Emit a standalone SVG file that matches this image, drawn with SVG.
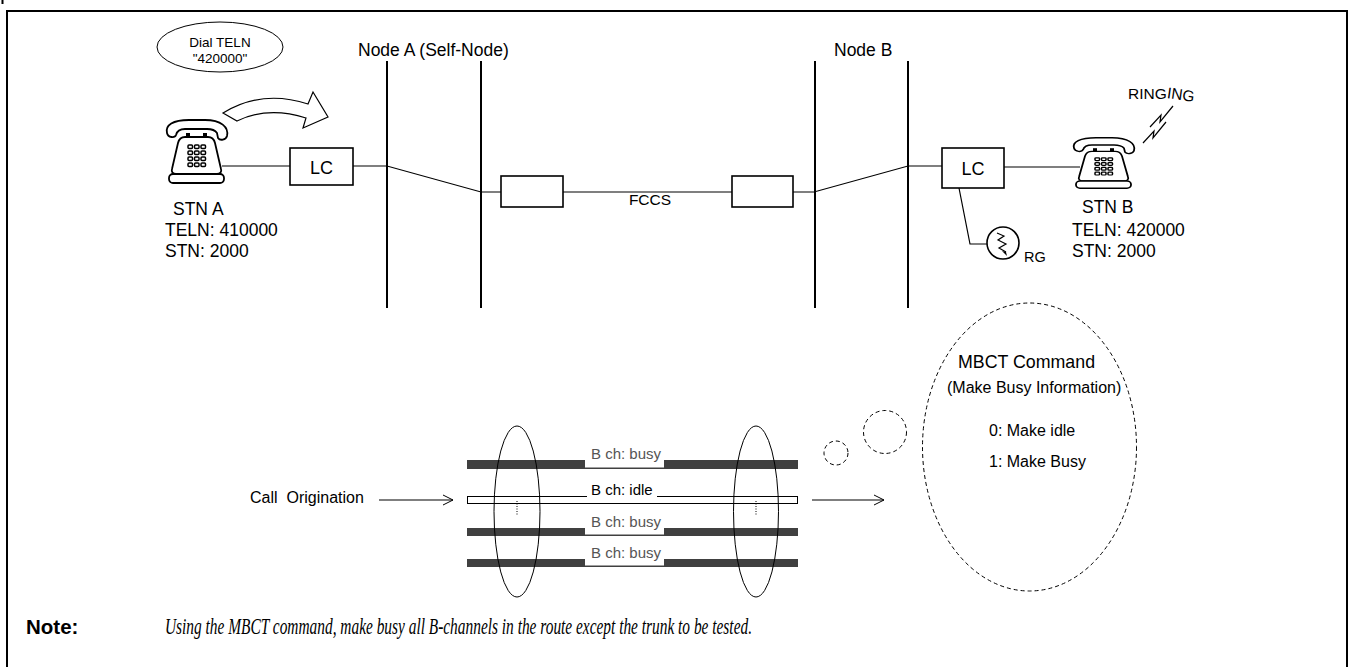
<svg xmlns="http://www.w3.org/2000/svg" width="1349" height="667" viewBox="0 0 1349 667">
  <style>
    .t { font-family: "Liberation Sans", Arial, sans-serif; fill: #000; }
    .ln { stroke: #000; stroke-width: 1.2; fill: none; }
    .node { stroke: #000; stroke-width: 2; fill: none; }
    .box { stroke: #000; stroke-width: 1.6; fill: #fff; }
    .busy { fill: #404040; }
    .gap { fill: #fff; }
    .dash { stroke: #000; stroke-width: 1; fill: none; stroke-dasharray: 4 3; }
    .busyt { fill: #555; }
  </style>
  <defs>
    <!-- telephone set: handset, body with keypad, base plate -->
    <g id="phone">
      <path d="M2,14 C0,6 8,1 24,1 L40,1 C56,1 64,8 62,17 C61,21 55,22 53,19 L52,14 C50,11 46,10 42,10 L20,10 C16,10 12,12 11,16 C10,19 3,19 2,14 Z" fill="#fff" stroke="#000" stroke-width="1.8"/>
      <rect x="21" y="14" width="4" height="5" fill="#000"/>
      <rect x="38" y="14" width="4" height="5" fill="#000"/>
      <path d="M20,18 L43,18 C47,18 49,20 50,24 L56,50 C57,53 55,55 52,55 L11,55 C8,55 6,53 7,50 L13,24 C14,20 16,18 20,18 Z" fill="#fff" stroke="#000" stroke-width="1.8"/>
      <rect x="4" y="55" width="55" height="9" rx="4" fill="#fff" stroke="#000" stroke-width="1.8"/>
      <g fill="#fff" stroke="#000" stroke-width="1.5">
        <rect x="23" y="26" width="4.5" height="3.5" rx="1"/>
        <rect x="29.5" y="26" width="4.5" height="3.5" rx="1"/>
        <rect x="36" y="26" width="4.5" height="3.5" rx="1"/>
        <rect x="23" y="32" width="4.5" height="3.5" rx="1"/>
        <rect x="29.5" y="32" width="4.5" height="3.5" rx="1"/>
        <rect x="36" y="32" width="4.5" height="3.5" rx="1"/>
        <rect x="23" y="38" width="4.5" height="3.5" rx="1"/>
        <rect x="29.5" y="38" width="4.5" height="3.5" rx="1"/>
        <rect x="36" y="38" width="4.5" height="3.5" rx="1"/>
        <rect x="23" y="44" width="4.5" height="3.5" rx="1"/>
        <rect x="29.5" y="44" width="4.5" height="3.5" rx="1"/>
        <rect x="36" y="44" width="4.5" height="3.5" rx="1"/>
      </g>
    </g>
    <marker id="open" viewBox="0 0 12 12" refX="11" refY="6" markerWidth="12" markerHeight="12" markerUnits="userSpaceOnUse" orient="auto">
      <path d="M1,1 L11,6 L1,11" fill="none" stroke="#000" stroke-width="1"/>
    </marker>
  </defs>

  <rect x="0" y="0" width="1349" height="667" fill="#fff"/>
  <rect x="1.5" y="0" width="2" height="4" fill="#000"/>
  <!-- frame -->
  <rect x="7" y="11" width="1340" height="700" fill="none" stroke="#000" stroke-width="2"/>

  <!-- connectors -->
  <g id="connectors">
    <polyline class="ln" points="222,166 290,166"/>
    <polyline class="ln" points="353,166 387,166 481,192 501,192"/>
    <line class="ln" x1="563" y1="192" x2="732" y2="192"/>
    <polyline class="ln" points="793,192 814,192 908,166 942,166"/>
    <line class="ln" x1="1004" y1="167" x2="1080" y2="167"/>
    <polyline class="ln" points="959,188 970,244 987,244"/>
    <line class="ln" x1="379" y1="500" x2="453" y2="500" marker-end="url(#open)"/>
    <line class="ln" x1="812" y1="500" x2="884" y2="500" marker-end="url(#open)"/>
  </g>

  <!-- node A -->
  <g id="node-a">
    <line class="node" x1="387" y1="61" x2="387" y2="308"/>
    <line class="node" x1="481" y1="61" x2="481" y2="308"/>
    <text class="t" x="358" y="56" font-size="17.5">Node A (Self-Node)</text>
  </g>

  <!-- node B -->
  <g id="node-b">
    <line class="node" x1="815" y1="61" x2="815" y2="308"/>
    <line class="node" x1="908" y1="61" x2="908" y2="308"/>
    <text class="t" x="834" y="56" font-size="17.5">Node B</text>
  </g>

  <!-- dial bubble -->
  <g id="dial-note">
    <ellipse cx="220" cy="47" rx="63" ry="25" fill="#fff" stroke="#000" stroke-width="1"/>
    <text class="t" x="220" y="47" font-size="13.5" text-anchor="middle">Dial TELN</text>
    <text class="t" x="220" y="63" font-size="13.5" text-anchor="middle">"420000"</text>
  </g>

  <!-- dialing arrow -->
  <g id="dial-arrow">
    <path d="M223,113 Q262,89 308,104 L313,92 L328,117 L303,128 L306,118 Q268,106 237,121 Z" fill="#fff" stroke="#000" stroke-width="1.2" stroke-linejoin="miter"/>
  </g>

  <!-- station A -->
  <g id="stn-a">
    <use href="#phone" transform="translate(165,119)"/>
    <text class="t" x="173" y="215" font-size="17.5">STN A</text>
    <text class="t" x="165" y="236" font-size="17.5">TELN: 410000</text>
    <text class="t" x="165" y="257" font-size="17.5">STN: 2000</text>
  </g>

  <!-- line circuit A -->
  <g id="lc-a">
    <rect class="box" x="290" y="148" width="63" height="37"/>
    <text class="t" x="321.5" y="173.5" font-size="18" text-anchor="middle">LC</text>
  </g>

  <!-- FCCS link -->
  <g id="fccs">
    <rect class="box" x="501" y="176" width="62" height="31"/>
    <rect class="box" x="732" y="176" width="61" height="31"/>
    <text class="t" x="650" y="205" font-size="15.5" text-anchor="middle">FCCS</text>
  </g>

  <!-- line circuit B -->
  <g id="lc-b">
    <rect class="box" x="942" y="148" width="62" height="40"/>
    <text class="t" x="973" y="174.5" font-size="18" text-anchor="middle">LC</text>
  </g>

  <!-- ringing generator -->
  <g id="rg">
    <circle cx="1003" cy="243" r="16" fill="#fff" stroke="#000" stroke-width="1.6"/>
    <polyline points="997,233 1004,236 998,240 1006,244 999,248 1006,252" fill="none" stroke="#000" stroke-width="1.2"/>
    <path d="M1006,252 L1002,251 L1007,256 Z" fill="#000"/>
    <text class="t" x="1024" y="262" font-size="14.5">RG</text>
  </g>

  <!-- station B -->
  <g id="stn-b">
    <use href="#phone" transform="translate(1072,137) scale(1,0.8)"/>
    <text class="t" x="1082" y="213" font-size="17.5">STN B</text>
    <text class="t" x="1072" y="236" font-size="17.5">TELN: 420000</text>
    <text class="t" x="1072" y="257" font-size="17.5">STN: 2000</text>
    <text class="t" x="1128" y="99" font-size="15.5">RING</text>
    <text class="t" x="0" y="0" font-size="15.5" transform="translate(1166.5,98) rotate(8)">ING</text>
    <polyline class="ln" points="1150,127 1161,115 1160,122 1173,106"/>
    <polyline class="ln" points="1143,143 1154,131 1153,138 1166,122"/>
  </g>

  <!-- B channels -->
  <g id="b-channels">
    <rect class="busy" x="467" y="460" width="331" height="9"/>
    <rect class="gap" x="585" y="446" width="79" height="21.5"/>
    <text class="t busyt" x="591" y="459" font-size="15">B ch: busy</text>

    <rect x="467.5" y="496.5" width="330" height="7" fill="#fff" stroke="#000" stroke-width="1"/>
    <rect class="gap" x="587" y="494" width="70" height="3.2"/>
    <text class="t" x="591" y="495" font-size="15">B ch: idle</text>

    <rect class="busy" x="467" y="528" width="331" height="8"/>
    <rect class="gap" x="585" y="514" width="79" height="20.5"/>
    <text class="t busyt" x="591" y="527" font-size="15">B ch: busy</text>

    <rect class="busy" x="467" y="559" width="331" height="8"/>
    <rect class="gap" x="585" y="545" width="79" height="20.5"/>
    <text class="t busyt" x="591" y="558" font-size="15">B ch: busy</text>

    <ellipse cx="517" cy="511.5" rx="23" ry="85.5" fill="none" stroke="#000" stroke-width="1"/>
    <ellipse cx="756" cy="511.5" rx="22.5" ry="85.5" fill="none" stroke="#000" stroke-width="1"/>
    <line x1="517" y1="501" x2="517" y2="515" stroke="#000" stroke-width="1" stroke-dasharray="1 1.5"/>
    <line x1="756" y1="501" x2="756" y2="515" stroke="#000" stroke-width="1" stroke-dasharray="1 1.5"/>
  </g>

  <g id="call-origination">
    <text class="t" x="250" y="503" font-size="16" xml:space="preserve">Call  Origination</text>
  </g>

  <!-- MBCT thought bubble -->
  <g id="mbct">
    <circle class="dash" cx="836" cy="453" r="12"/>
    <circle class="dash" cx="885" cy="432" r="21.5"/>
    <ellipse class="dash" cx="1029.5" cy="447" rx="107" ry="144"/>
    <text class="t" x="958" y="368" font-size="17.8">MBCT Command</text>
    <text class="t" x="947" y="393" font-size="16">(Make Busy Information)</text>
    <text class="t" x="989" y="436" font-size="16">0: Make idle</text>
    <text class="t" x="989" y="467" font-size="16">1: Make Busy</text>
  </g>

  <!-- footnote -->
  <g id="note">
    <text class="t" x="26" y="634" font-size="20.5" font-weight="bold">Note:</text>
    <text x="165" y="634" font-family="'Liberation Serif', 'Times New Roman', serif" font-style="italic" font-size="23" textLength="587" lengthAdjust="spacingAndGlyphs">Using the MBCT command, make busy all B-channels in the route except the trunk to be tested.</text>
  </g>
</svg>
